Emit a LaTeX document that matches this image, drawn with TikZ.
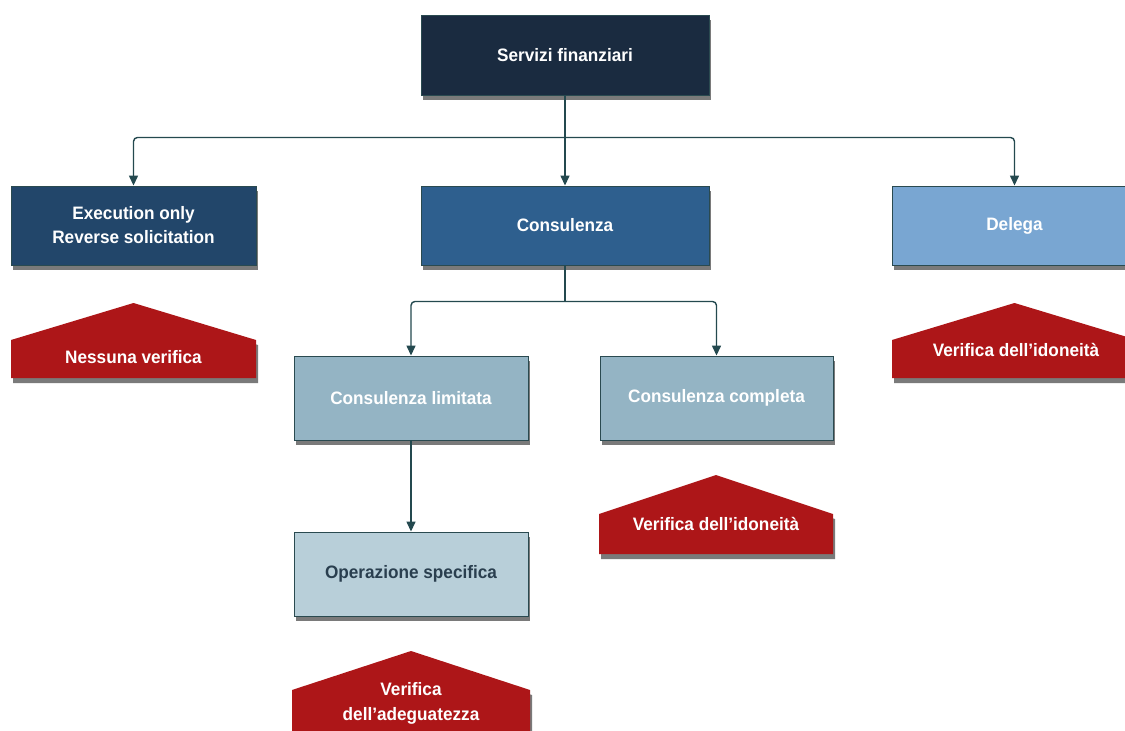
\documentclass[tikz,border=0pt]{standalone}
\usepackage{fontspec}
\setmainfont{Liberation Sans}[FakeStretch=0.955]
\usetikzlibrary{arrows.meta,shadows}
\definecolor{cSF}{HTML}{1A2B40}
\definecolor{cEO}{HTML}{22466A}
\definecolor{cCO}{HTML}{2E5F8E}
\definecolor{cDE}{HTML}{79A6D2}
\definecolor{cCL}{HTML}{94B4C4}
\definecolor{cOS}{HTML}{B8CFD9}
\definecolor{cRed}{HTML}{AD1618}
\definecolor{cLine}{HTML}{24494F}
\definecolor{cBord}{HTML}{2A4A50}
\definecolor{cShadow}{HTML}{7A7A7A}
\definecolor{cDarkText}{HTML}{2A3F4F}
\newcommand\redhouse[5]{%
  \fill[cShadow] (#1+2,#5+5) -- (#1+2,#4+5) -- ({(#1+#2)/2+2},#3+5) -- (#2+2,#4+5) -- (#2+2,#5+5) -- cycle;
  \fill[cRed] (#1,#5) -- (#1,#4) -- ({(#1+#2)/2},#3) -- (#2,#4) -- (#2,#5) -- cycle;}
\begin{document}
\begin{tikzpicture}[x=1pt,y=-1pt,
  box/.style={rectangle, draw=cBord, line width=0.9pt, text=white,
    font=\fontsize{18}{24}\selectfont\bfseries, align=center, inner sep=0pt,
    drop shadow={shadow xshift=2pt, shadow yshift=-5pt, fill=cShadow, opacity=1}},
  lbl/.style={text=white, font=\fontsize{18}{25}\selectfont\bfseries, align=center, inner sep=0pt},
  conn/.style={draw=cLine, line width=1.4pt, rounded corners=4pt},
  arr/.style={conn, -{Triangle[length=10pt,width=9pt]}}]
\useasboundingbox (0,0) rectangle (1125,731);
\fill[white] (0,0) rectangle (1125,731);

\node[box, fill=cSF, minimum width=288pt, minimum height=80pt] (sf) at (565,55) {Servizi finanziari};
\node[box, fill=cEO, minimum width=245pt, minimum height=79pt] (eo) at (133.5,225.5) {Execution only\\Reverse solicitation};
\node[box, fill=cCO, minimum width=288pt, minimum height=79pt] (co) at (565,225.5) {Consulenza};
\node[box, fill=cDE, minimum width=245pt, minimum height=79pt] (de) at (1014.5,225.5) {Delega};
\node[box, fill=cCL, minimum width=234pt, minimum height=84pt] (cl) at (411,398) {Consulenza limitata};
\node[box, fill=cCL, minimum width=233pt, minimum height=84pt] (cc) at (716.5,398) {Consulenza completa};
\node[box, fill=cOS, text=cDarkText, minimum width=234pt, minimum height=84pt] (os) at (411,574) {Operazione specifica};

\redhouse{11}{256}{303}{340}{378}
\redhouse{892}{1137}{303}{340}{378}
\redhouse{599}{833}{475}{514}{554}
\redhouse{292}{530}{651}{690}{740}

\node[lbl] (v1) at (133.5,357) {Nessuna verifica};
\node[lbl] (v2) at (1016,350) {Verifica dell’idoneità};
\node[lbl] (v3) at (716,524) {Verifica dell’idoneità};
\node[lbl] (v4) at (411,703) {Verifica\\dell’adeguatezza};

\draw[conn] (sf.south) -- ++(0,42) coordinate (j1);
\draw[arr] (j1) -| (eo.north);
\draw[arr] (j1) -| (de.north);
\draw[arr] (sf.south) -- (co.north);
\draw[conn] (co.south) -- ++(0,36) coordinate (j2);
\draw[arr] (j2) -| (cl.north);
\draw[arr] (j2) -| (cc.north);
\draw[arr] (cl.south) -- (os.north);
\end{tikzpicture}
\end{document}
